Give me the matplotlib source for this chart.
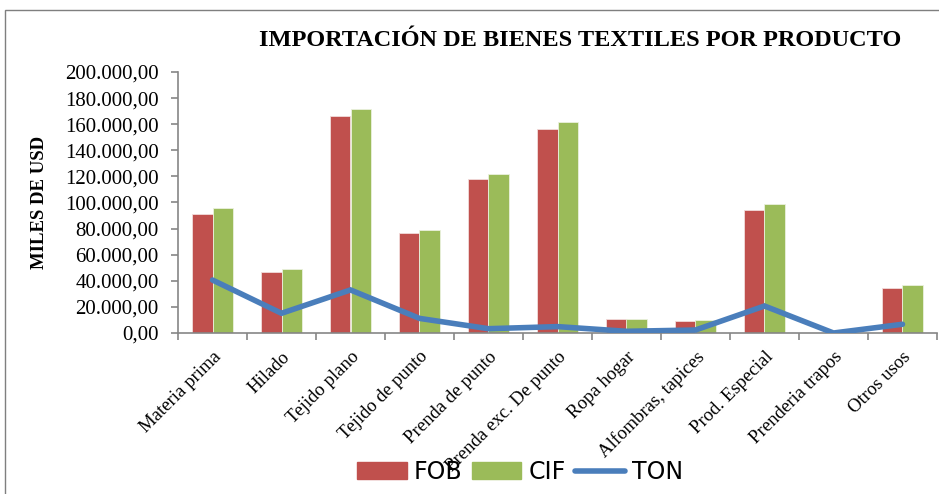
import numpy as np
import matplotlib.pyplot as plt
from matplotlib.patches import Rectangle, Patch
from matplotlib.lines import Line2D
from matplotlib.ticker import FuncFormatter

# Datos (miles de USD y toneladas)
categorias = ['Materia prima', 'Hilado', 'Tejido plano', 'Tejido de punto',
              'Prenda de punto', 'Prenda exc. De punto', 'Ropa hogar',
              'Alfombras, tapices', 'Prod. Especial', 'Prenderia trapos', 'Otros usos']
fob = [91200, 46500, 166300, 76600, 117800, 156300, 10700, 9200, 94300, 200, 34700]
cif = [95500, 49000, 171400, 78900, 121800, 161700, 11000, 10000, 98900, 250, 36500]
ton = [40600, 15100, 33000, 11200, 3300, 4900, 1300, 2300, 20700, 0, 6700]

serif = 'Liberation Serif'

fig = plt.figure(figsize=(9.39, 4.94), dpi=100)
ax = fig.add_axes([178/939, 161/494, 759/939, 261/494])

x = np.arange(len(categorias))
ancho = 0.29
ax.bar(x - ancho/2, fob, ancho, color='#c0504d', edgecolor='#f2dcdb', linewidth=0.6, zorder=2)
ax.bar(x + ancho/2, cif, ancho, color='#9bbb59', edgecolor='#ebf1de', linewidth=0.6, zorder=2)
ax.plot(x, ton, color='#4a7ebb', linewidth=4, solid_capstyle='round',
        solid_joinstyle='miter', zorder=3)

ax.set_xlim(-0.5, len(categorias) - 0.5)
ax.set_ylim(0, 200000)
ax.set_yticks(np.arange(0, 200001, 20000))

def fmt(v, pos):
    s = f'{v:,.2f}'
    return s.replace(',', 'X').replace('.', ',').replace('X', '.')
ax.yaxis.set_major_formatter(FuncFormatter(fmt))

ax.set_xticks(x)
ax.set_xticklabels(categorias, rotation=45, ha='right', rotation_mode='anchor',
                   family=serif, fontsize=13.5)
ax.set_xticks(np.arange(-0.5, len(categorias)), minor=True)
ax.tick_params(axis='x', which='major', length=0, pad=11)
ax.tick_params(axis='x', which='minor', length=5, color='#868686', width=1.2)
ax.tick_params(axis='y', length=5, color='#868686', width=1.2, pad=9)
for t in ax.get_yticklabels():
    t.set_family(serif)
    t.set_fontsize(15)

for s in ['top', 'right']:
    ax.spines[s].set_visible(False)
for s in ['left', 'bottom']:
    ax.spines[s].set_color('#868686')
    ax.spines[s].set_linewidth(1.2)

ax.set_ylabel('MILES DE USD', family=serif, fontweight='bold', fontsize=13.5, labelpad=12)

fig.text(580/939, 1 - 41/494, 'IMPORTACIÓN DE BIENES TEXTILES POR PRODUCTO',
         family=serif, fontweight='bold', fontsize=17.5, ha='center', va='center')

# marco del grafico
fig.patches.append(Rectangle((5/939, -0.1), 1.1, 1 - 10/494 + 0.1, transform=fig.transFigure,
                             fill=False, edgecolor='#7f7f7f', linewidth=1))

handles = [Patch(color='#c0504d'), Patch(color='#9bbb59'),
           Line2D([0], [0], color='#4a7ebb', linewidth=4, solid_capstyle='round')]
fig.legend(handles, ['FOB', 'CIF', 'TON'], loc='center', bbox_to_anchor=(520/939, 1 - 472/494),
           ncol=3, frameon=False, prop={'family': 'Liberation Sans Narrow', 'size': 17},
           handlelength=2.1, handleheight=0.7, columnspacing=0.4, handletextpad=0.3)

fig.savefig('out.png', dpi=100)
